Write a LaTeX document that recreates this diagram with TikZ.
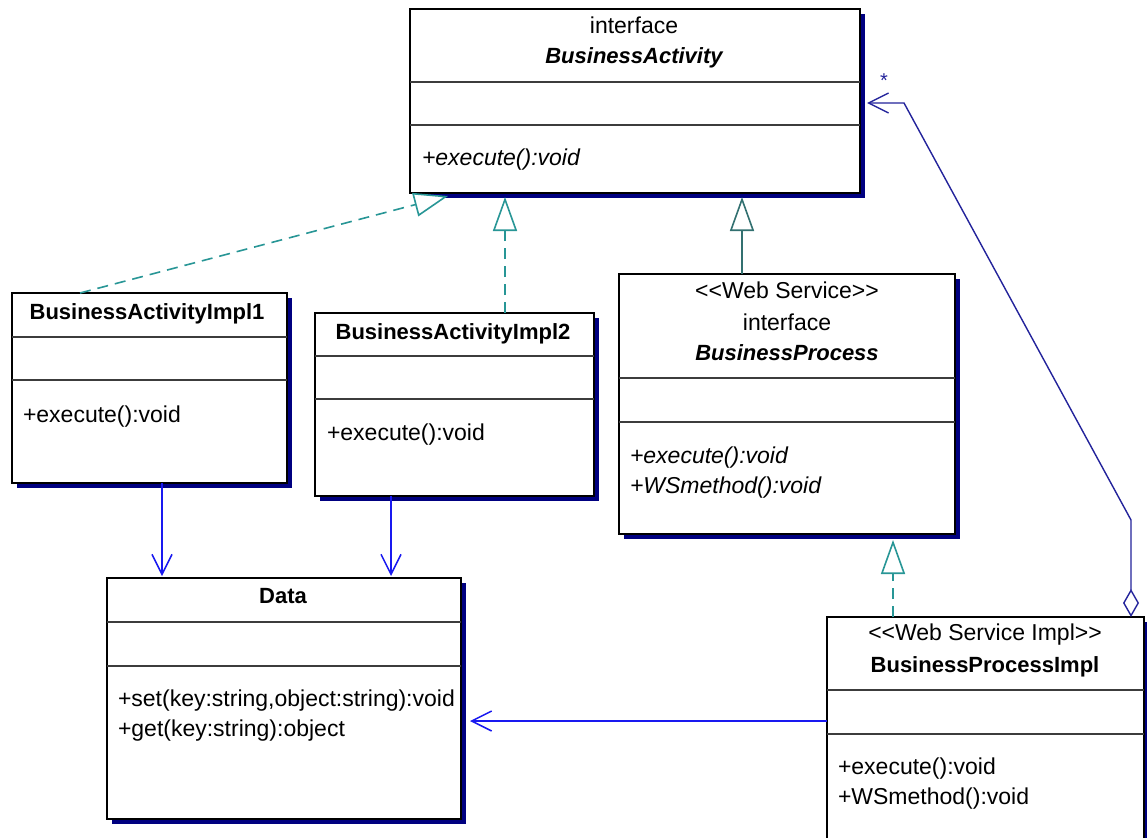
\documentclass[tikz,border=0pt]{standalone}
\usepackage{fontspec}
\setmainfont{Liberation Sans}
\usetikzlibrary{arrows.meta,shadows}

\definecolor{shadownavy}{RGB}{0,0,128}
\definecolor{tealc}{RGB}{40,150,150}
\definecolor{tealdark}{RGB}{50,112,112}
\definecolor{assocblue}{RGB}{25,25,240}
\definecolor{aggnavy}{RGB}{35,35,155}
\definecolor{divgray}{RGB}{60,60,60}

\begin{document}
\begin{tikzpicture}[x=1pt,y=-1pt,
  every node/.style={font=\fontsize{23}{30}\selectfont, inner sep=0pt, outer sep=0pt},
  cls/.style={draw=black, line width=1.5pt, fill=white,
    drop shadow={shadow xshift=5pt, shadow yshift=-5pt, fill=shadownavy, opacity=1}},
  divider/.style={draw=divgray, line width=1.5pt},
  cname/.style={anchor=base, font=\fontsize{22}{30}\selectfont\bfseries},
  aname/.style={anchor=base, font=\fontsize{22}{30}\selectfont\bfseries\itshape},
  stereo/.style={anchor=base},
  op/.style={anchor=base west},
  aop/.style={anchor=base west, font=\fontsize{23}{30}\selectfont\itshape},
  realize/.style={draw=tealc, line width=1.6pt, dash pattern=on 11pt off 7pt,
    -{Triangle[open, fill=white, length=34pt, width=24pt]}},
  generalize/.style={draw=tealdark, line width=1.6pt,
    -{Triangle[open, fill=white, length=34pt, width=24pt]}},
  assoc/.style={draw=assocblue, line width=1.5pt,
    -{Straight Barb[length=20pt, width=20pt]}},
  aggr/.style={draw=aggnavy, line width=1.4pt,
    {Diamond[open, fill=white, length=28pt, width=16pt]}-{Straight Barb[length=20pt, width=20pt]}},
]

% page
\clip (0,0) rectangle (1147,837);
\fill[white] (0,0) rectangle (1147,837);

% ---------- class boxes ----------
\node[cls, minimum width=450pt, minimum height=184pt] (ba)    at (635,101)   {};
\node[cls, minimum width=275pt, minimum height=190pt] (impl1) at (149.5,388) {};
\node[cls, minimum width=279pt, minimum height=183pt] (impl2) at (454.5,404.5) {};
\node[cls, minimum width=336pt, minimum height=260pt] (bp)    at (787,404)   {};
\node[cls, minimum width=354pt, minimum height=241pt] (data)  at (284,698.5)  {};
\node[cls, minimum width=317pt, minimum height=233pt] (bpi)   at (985.5,733.5) {};

% compartment dividers
\draw[divider] (ba.west |- 0,82)     -- (ba.east |- 0,82);
\draw[divider] (ba.west |- 0,125)    -- (ba.east |- 0,125);
\draw[divider] (impl1.west |- 0,337) -- (impl1.east |- 0,337);
\draw[divider] (impl1.west |- 0,380) -- (impl1.east |- 0,380);
\draw[divider] (impl2.west |- 0,356) -- (impl2.east |- 0,356);
\draw[divider] (impl2.west |- 0,399) -- (impl2.east |- 0,399);
\draw[divider] (bp.west |- 0,378)    -- (bp.east |- 0,378);
\draw[divider] (bp.west |- 0,422)    -- (bp.east |- 0,422);
\draw[divider] (data.west |- 0,622)  -- (data.east |- 0,622);
\draw[divider] (data.west |- 0,666)  -- (data.east |- 0,666);
\draw[divider] (bpi.west |- 0,690)   -- (bpi.east |- 0,690);
\draw[divider] (bpi.west |- 0,734)   -- (bpi.east |- 0,734);

% ---------- texts ----------
% BusinessActivity
\node[stereo] (ba-st)   at (634,34)  {interface};
\node[aname]  (ba-name) at (634,64)  {BusinessActivity};
\node[aop]    (ba-op1)  at (422,165) {+execute():void};

% BusinessActivityImpl1
\node[cname]  (i1-name) at (147,319) {BusinessActivityImpl1};
\node[op]     (i1-op1)  at (23,422)  {+execute():void};

% BusinessActivityImpl2
\node[cname]  (i2-name) at (453,339) {BusinessActivityImpl2};
\node[op]     (i2-op1)  at (327,440) {+execute():void};

% BusinessProcess
\node[stereo] (bp-st1)  at (787,298) {<{}<Web Service>{}>};
\node[stereo] (bp-st2)  at (787,330) {interface};
\node[aname]  (bp-name) at (787,360) {BusinessProcess};
\node[aop]    (bp-op1)  at (630,463) {+execute():void};
\node[aop]    (bp-op2)  at (630,493) {+WSmethod():void};

% Data
\node[cname]  (d-name)  at (283,603) {Data};
\node[op]     (d-op1)   at (118,706) {+set(key:string,object:string):void};
\node[op]     (d-op2)   at (118,736) {+get(key:string):object};

% BusinessProcessImpl
\node[stereo] (bpi-st)   at (985,640) {<{}<Web Service Impl>{}>};
\node[cname]  (bpi-name) at (985,672) {BusinessProcessImpl};
\node[op]     (bpi-op1)  at (838,774) {+execute():void};
\node[op]     (bpi-op2)  at (838,804) {+WSmethod():void};

% ---------- connectors ----------
% realizations / generalization towards BusinessActivity
\draw[realize] (impl1.north -| 80,0) -- ([yshift=-3pt]ba.south -| 448,0);
\draw[realize] (impl2.north -| 505,0) -- ([yshift=-4pt]ba.south -| 505,0);
\draw[generalize] (bp.north -| 742,0) -- ([yshift=-4pt]ba.south -| 742,0);
\draw[realize] (bpi.north -| 893,0) -- ([yshift=-6pt]bp.south -| 893,0);

% associations to Data
\draw[assoc] (impl1.south -| 162,0) -- ([yshift=2pt]data.north -| 162,0);
\draw[assoc] (impl2.south -| 391,0) -- ([yshift=2pt]data.north -| 391,0);
\draw[assoc] (bpi.west |- 0,721) -- ([xshift=9pt]data.east |- 0,721);

% aggregation of BusinessActivity in BusinessProcessImpl
\coordinate (agg-bend1) at (1131,520);
\coordinate (agg-bend2) at (904,103);
\draw[aggr] (bpi.north -| 1131,0) -- (agg-bend1) -- (agg-bend2)
  -- ([xshift=7pt]ba.east |- agg-bend2);
\node[anchor=base, font=\fontsize{20}{20}\selectfont, text=aggnavy] (mult) at (884,88) {*};

\end{tikzpicture}
\end{document}
